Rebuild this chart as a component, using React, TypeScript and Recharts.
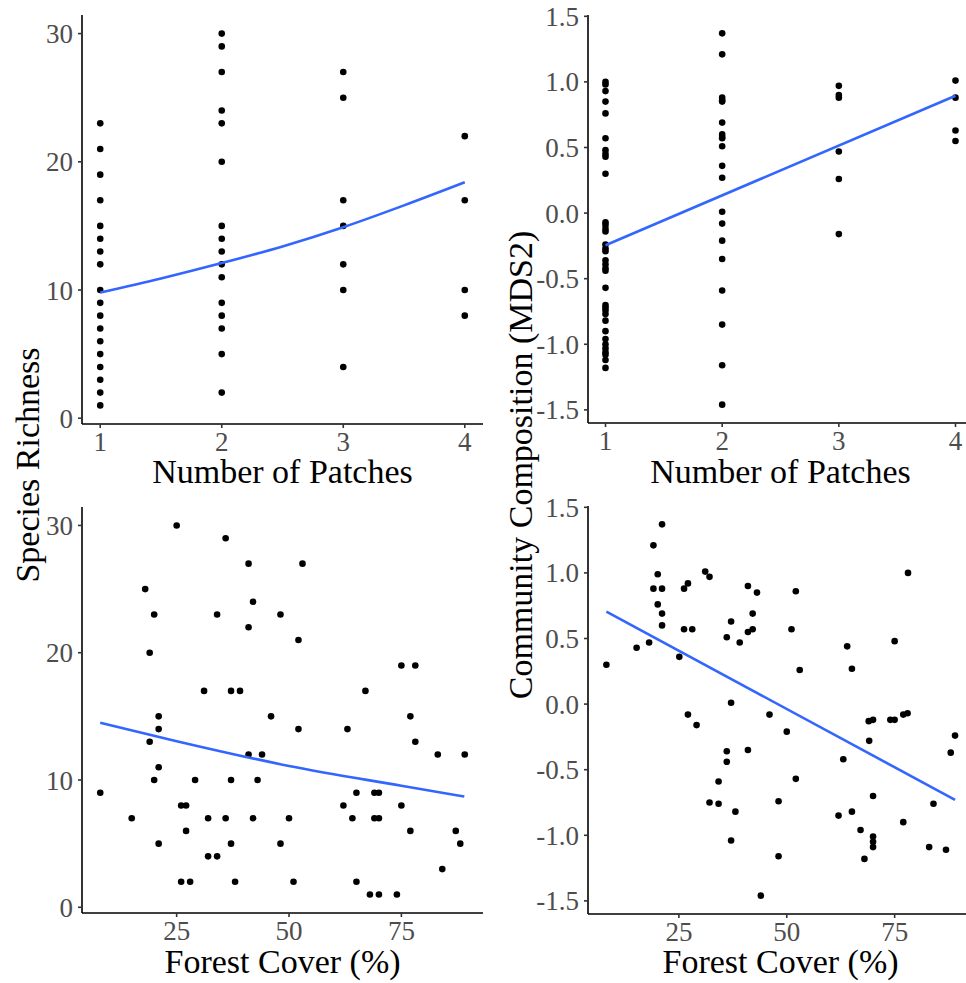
import React from 'react';
import { ScatterChart, Scatter, XAxis, YAxis } from 'recharts';

const FONT = '"Liberation Serif", "Times New Roman", serif';

// top row: values per number of patches
const patchLevels = [1, 2, 3, 4];
const richnessByPatches = [
  [23, 21, 19, 17, 15, 14, 13, 12, 10, 9, 8, 7, 6, 5, 4, 3, 2, 1],
  [30, 29, 27, 24, 23, 20, 15, 14, 13, 12, 11, 9, 8, 7, 5, 2],
  [27, 25, 17, 15, 12, 10, 4],
  [22, 17, 10, 8],
];
const mdsByPatches = [
  [1.0, 0.98, 0.93, 0.85, 0.76, 0.57, 0.48, 0.45, 0.43, 0.3, -0.07, -0.09, -0.12, -0.14, -0.24, -0.27, -0.29,
    -0.36, -0.39, -0.42, -0.44, -0.57, -0.7, -0.72, -0.74, -0.77, -0.82, -0.9, -0.96, -1.0, -1.03, -1.06, -1.08,
    -1.12, -1.18],
  [1.37, 1.21, 0.88, 0.86, 0.85, 0.69, 0.6, 0.58, 0.57, 0.51, 0.36, 0.27, 0.01, -0.08, -0.21, -0.35, -0.59, -0.85,
    -1.16, -1.46],
  [0.97, 0.9, 0.88, 0.47, 0.26, -0.16],
  [1.01, 0.88, 0.63, 0.55],
];

// bottom row: forest cover vs response
const forestCoverRich = [25, 35.9, 41, 53, 18, 20, 34, 48.1, 42, 41, 52.1, 19, 75, 78.1, 31.1, 37.1, 39.1, 67, 21, 46,
  77, 21, 52.1, 63, 19, 78.1, 41, 44, 83.1, 89.1, 21, 20, 29.1, 37.1, 43, 8, 65, 69, 70, 26, 27.1, 62.1, 75, 15, 32,
  35.9, 42, 50, 64.1, 69, 70, 27.1, 77, 87.1, 21, 37.1, 48.1, 88.1, 32, 34, 84.1, 26, 28, 38, 51, 65, 68, 70, 74];
const richnessForest = [30, 29, 27, 27, 25, 23, 23, 23, 24, 22, 21, 20, 19, 19, 17, 17, 17, 17, 15, 15, 15, 14, 14, 14,
  13, 13, 12, 12, 12, 12, 11, 10, 10, 10, 10, 9, 9, 9, 9, 8, 8, 8, 8, 7, 7, 7, 7, 7, 7, 7, 7, 6, 6, 6, 5, 5, 5, 5, 4, 4,
  3, 2, 2, 2, 2, 2, 1, 1, 1];

const forestCoverMds = [8.2, 15.2, 18.1, 19.1, 20.1, 19.1, 21.1, 21.1, 20.1, 21.1, 21.1, 25.1, 26.2, 27.1, 26.2, 28.1,
  27.1, 29.1, 31.1, 32.1, 32.1, 34.2, 34.2, 36.1, 36.1, 36.1, 37.1, 37.1, 37.1, 38.1, 39.1, 41, 41, 42.1, 42.1, 43.1,
  41, 44, 46, 48.1, 48.1, 50, 51.1, 52.1, 52.1, 53, 62, 63.1, 64, 65.1, 65.1, 67.1, 68, 69, 70, 69.1, 70, 70, 70, 70,
  74, 75, 75, 77, 78, 78.1, 77, 83, 84, 86.9, 88, 89];
const mdsForest = [0.3, 0.43, 0.47, 1.21, 0.99, 0.88, 1.37, 0.88, 0.76, 0.69, 0.6, 0.36, 0.88, 0.92, 0.57, 0.57, -0.08,
  -0.16, 1.01, 0.97, -0.75, -0.76, -0.59, 0.51, -0.36, -0.44, 0.63, 0.01, -1.04, -0.82, 0.47, 0.9, 0.55, 0.57, 0.69,
  0.85, -0.35, -1.46, -0.08, -0.74, -1.16, -0.21, 0.57, 0.86, -0.57, 0.26, -0.85, -0.42, 0.44, 0.27, -0.82, -0.96,
  -1.18, -0.13, -0.12, -0.28, -0.7, -1.01, -1.05, -1.09, -0.12, -0.12, 0.48, -0.08, -0.07, 1.0, -0.9, -1.09, -0.76,
  -1.11, -0.37, -0.24];

// fitted trend lines
const fitRichPatchX = [1, 1.5, 2, 2.5, 3, 3.5, 4];
const fitRichPatchY = [9.8, 10.9, 12.1, 13.4, 14.9, 16.6, 18.4];
const fitMdsPatchX = [1, 4];
const fitMdsPatchY = [-0.245, 0.895];
const fitRichForestX = [8, 25, 50, 75, 89];
const fitRichForestY = [14.5, 13.05, 11.1, 9.55, 8.7];
const fitMdsForestX = [8.2, 89];
const fitMdsForestY = [0.705, -0.73];

const richTicks = [0, 10, 20, 30];
const mdsTicks = [-1.5, -1.0, -0.5, 0.0, 0.5, 1.0, 1.5];
const patchTicks = [1, 2, 3, 4];
const forestTicks = [25, 50, 75];

type Pt = { x: number; y: number };

const byGroup = (levels: number[], groups: number[][]): Pt[] =>
  groups.flatMap((vals, i) => vals.map((y) => ({ x: levels[i], y })));
const zip = (xs: number[], ys: number[]): Pt[] => xs.map((x, i) => ({ x, y: ys[i] }));

const dot = (props: any) => <circle cx={props.cx} cy={props.cy} r={3.3} fill="#000" />;

interface PanelProps {
  left: number;
  top: number;
  width: number;
  height: number;
  marginTop: number;
  marginRight: number;
  yWidth: number;
  xHeight: number;
  xDomain: [number, number];
  yDomain: [number, number];
  xTicks: number[];
  yTicks: number[];
  yFormat?: (v: number) => string;
  xLabel: string;
  labelOffset: number;
  points: Pt[];
  fit: Pt[];
}

function Panel(p: PanelProps) {
  const axisLine = { stroke: '#000', strokeWidth: 1.6 };
  const tickLine = { stroke: '#333', strokeWidth: 1.6 };
  const tick = { fill: '#4d4d4d', fontSize: 27, fontFamily: FONT };
  return (
    <div style={{ position: 'absolute', left: p.left, top: p.top }}>
      <ScatterChart
        width={p.width}
        height={p.height}
        margin={{ top: p.marginTop, right: p.marginRight, left: 0, bottom: 0 }}
      >
        <XAxis
          type="number"
          dataKey="x"
          domain={p.xDomain}
          ticks={p.xTicks}
          interval={0}
          allowDataOverflow
          height={p.xHeight}
          axisLine={axisLine}
          tickLine={tickLine}
          tickSize={4}
          tickMargin={4}
          tick={tick}
          label={{
            value: p.xLabel,
            position: 'insideBottom',
            offset: p.labelOffset,
            fill: '#000',
            fontSize: 34,
            fontFamily: FONT,
          }}
        />
        <YAxis
          type="number"
          dataKey="y"
          domain={p.yDomain}
          ticks={p.yTicks}
          interval={0}
          allowDataOverflow
          width={p.yWidth}
          axisLine={axisLine}
          tickLine={tickLine}
          tickSize={4}
          tickMargin={5}
          tick={tick}
          tickFormatter={p.yFormat}
        />
        <Scatter data={p.points} shape={dot} isAnimationActive={false} />
        <Scatter
          data={p.fit}
          shape={() => <g />}
          line={{ stroke: '#3366FF', strokeWidth: 2.6 }}
          lineJointType="monotone"
          isAnimationActive={false}
        />
      </ScatterChart>
    </div>
  );
}

export default function App() {
  const fmt1 = (v: number) => v.toFixed(1);
  return (
    <div style={{ position: 'absolute', left: 0, top: 0, width: 966, height: 983, overflow: 'hidden', background: '#fff' }}>
      <Panel
        left={0}
        top={0}
        width={490}
        height={500}
        marginTop={15}
        marginRight={7}
        yWidth={82}
        xHeight={76}
        xDomain={[0.85, 4.15]}
        yDomain={[-0.45, 31.45]}
        xTicks={patchTicks}
        yTicks={richTicks}
        xLabel="Number of Patches"
        labelOffset={17}
        points={byGroup(patchLevels, richnessByPatches)}
        fit={zip(fitRichPatchX, fitRichPatchY)}
      />
      <Panel
        left={490}
        top={0}
        width={483}
        height={500}
        marginTop={15}
        marginRight={0}
        yWidth={98}
        xHeight={77}
        xDomain={[0.85, 4.15]}
        yDomain={[-1.6, 1.51]}
        xTicks={patchTicks}
        yTicks={mdsTicks}
        yFormat={fmt1}
        xLabel="Number of Patches"
        labelOffset={17}
        points={byGroup(patchLevels, mdsByPatches)}
        fit={zip(fitMdsPatchX, fitMdsPatchY)}
      />
      <Panel
        left={0}
        top={490}
        width={490}
        height={493}
        marginTop={17}
        marginRight={7}
        yWidth={82}
        xHeight={70}
        xDomain={[3.94, 93.16]}
        yDomain={[-0.45, 31.45]}
        xTicks={forestTicks}
        yTicks={richTicks}
        xLabel="Forest Cover (%)"
        labelOffset={10}
        points={zip(forestCoverRich, richnessForest)}
        fit={zip(fitRichForestX, fitRichForestY)}
      />
      <Panel
        left={490}
        top={490}
        width={483}
        height={493}
        marginTop={16}
        marginRight={0}
        yWidth={98}
        xHeight={69}
        xDomain={[3.94, 93.16]}
        yDomain={[-1.6, 1.51]}
        xTicks={forestTicks}
        yTicks={mdsTicks}
        yFormat={fmt1}
        xLabel="Forest Cover (%)"
        labelOffset={10}
        points={zip(forestCoverMds, mdsForest)}
        fit={zip(fitMdsForestX, fitMdsForestY)}
      />
      <svg width={966} height={983} style={{ position: 'absolute', left: 0, top: 0, pointerEvents: 'none' }}>
        <text
          transform="translate(39, 465) rotate(-90)"
          textAnchor="middle"
          fontSize={34}
          fontFamily={FONT}
          fill="#000"
        >
          Species Richness
        </text>
        <text
          transform="translate(532, 465) rotate(-90)"
          textAnchor="middle"
          fontSize={34}
          fontFamily={FONT}
          fill="#000"
        >
          Community Composition (MDS2)
        </text>
      </svg>
    </div>
  );
}
